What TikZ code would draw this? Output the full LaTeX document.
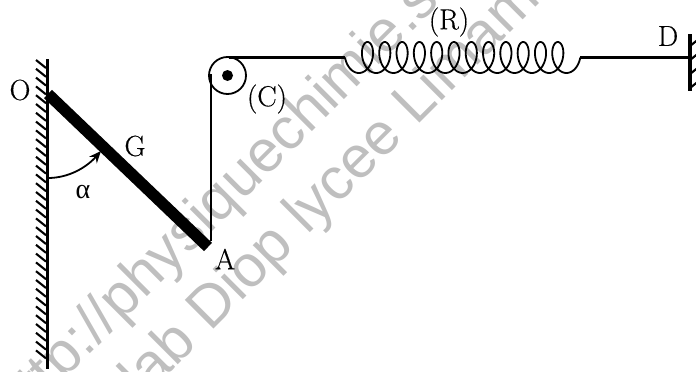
\documentclass[tikz,border=0pt]{standalone}
\usepackage{fontspec}
\newfontfamily\wmfont{Liberation Sans}
\newfontfamily\grk{Liberation Serif}
\newfontfamily\lmfont{Latin Modern Roman}[FakeBold=0.4]
\usetikzlibrary{arrows.meta}
\tikzset{
  lbl/.style={inner sep=0pt,font=\lmfont\fontsize{29}{29}\selectfont},
  wm/.style={inner sep=0pt,text=black!25,rotate=45,font=\wmfont\fontsize{59}{59}\selectfont,anchor=base west},
  rod/.style={line width=11.5pt},
  thin string/.style={line width=2pt},
  thick string/.style={line width=3pt},
  wall/.style={line width=3.4pt},
  hatch/.style={line width=2.1pt},
  springline/.style={line width=1.8pt,line join=round},
}
\begin{document}
\begin{tikzpicture}[x=1pt,y=-1pt]
\useasboundingbox (0,0) rectangle (696,372);
\begin{scope}
\clip (0,0) rectangle (696,372);
\node[wm] (wma) at (17,427) {http://physiquechimie.s};
\node[wm] (wmb) at (143,400) {lab Diop lycee Limam};
\end{scope}
% wall
\coordinate (W1) at (47.5,59);
\coordinate (W2) at (47.5,369);
\draw[wall] (W1) -- (W2);
\foreach \y in {60,68.8,...,358} \draw[hatch] (36,\y) -- (46,\y+8);
% rod
\coordinate (RO) at (48,94);
\coordinate (RA) at (208,247);
\draw[rod] (RO) -- (RA);
% angle
\coordinate (a1) at (48,178);
\coordinate (a2) at (101,151);
\draw[line width=1.8pt,-{Stealth[length=12pt,width=10pt,inset=4pt]}] (a1) .. controls (68,178) and (86,168) .. (a2);
% pulley
\node[circle,draw,line width=1.8pt,minimum size=37pt,inner sep=0pt] (C) at (227.5,75.5) {};
\node[circle,fill,minimum size=11pt,inner sep=0pt] (Cc) at (C) {};
% strings
\coordinate (s0) at (210.5,74);
\coordinate (s1) at (210.5,241);
\draw[thin string] (s0) -- (s1);
\coordinate (t0) at (229,57.5);
\coordinate (t1) at (345,57.5);
\draw[thick string] (t0) -- (t1);
% spring
\draw[springline] plot[smooth,samples=600,domain=-90:4410,variable=\t] ({358.85+\t/360*17.3+9.5*sin(\t)},{57.5+15.5*cos(\t)});
% right string & wall
\coordinate (u0) at (580,57.5);
\coordinate (D0) at (690,57.5);
\draw[thick string] (u0) -- (D0);
\draw[wall] (690,34) -- (690,91);
\foreach \y in {38,52,66,80} \draw[hatch] (690,\y+8) -- (700,\y);
% labels
\node[lbl] (O) at (20,90) {O};
\node[lbl] (G) at (135,146) {G};
\node[lbl,font=\grk\fontsize{28}{28}\selectfont] (al) at (83,192) {α};
\node[lbl] (A) at (225,259) {A};
\node[lbl] (Cl) at (267,99) {(C)};
\node[lbl] (R) at (449,22) {(R)};
\node[lbl] (D) at (668,36) {D};
\end{tikzpicture}
\end{document}
